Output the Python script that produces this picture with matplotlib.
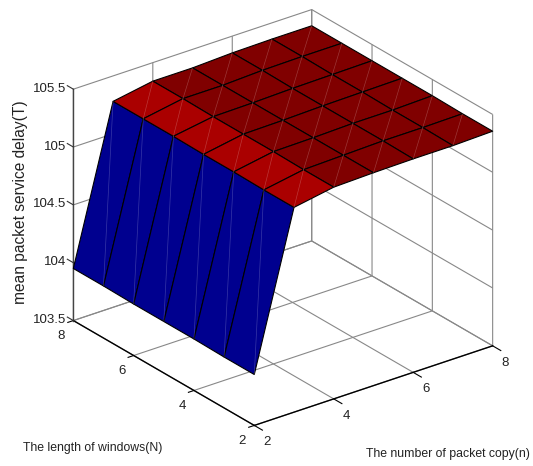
#!/usr/bin/env python3
import matplotlib
matplotlib.use("Agg")
import matplotlib.pyplot as plt
import numpy as np

plt.rcParams["font.family"] = ["Liberation Sans", "DejaVu Sans"]

copies = [2, 3, 4, 5, 6, 7, 8]
windows = [2, 3, 4, 5, 6, 7, 8]
# rows: windows N = 2..8, columns: packet copies n = 2..8
delay = [
    [103.94, 105.27, 105.33, 105.34, 105.345, 105.345, 105.355],
    [103.94, 105.27, 105.33, 105.34, 105.35, 105.35, 105.355],
    [103.945, 105.275, 105.335, 105.34, 105.35, 105.35, 105.36],
    [103.945, 105.275, 105.335, 105.34, 105.35, 105.355, 105.36],
    [103.945, 105.28, 105.335, 105.34, 105.35, 105.355, 105.36],
    [103.95, 105.28, 105.34, 105.34, 105.355, 105.36, 105.36],
    [103.95, 105.28, 105.34, 105.34, 105.355, 105.36, 105.36],
]
# face colour of each strip along n
strip_colors = ["#00008F", "#AA0000", "#800000", "#800000", "#800000", "#800000"]

xticks = [2, 4, 6, 8]
yticks = [2, 4, 6, 8]
zticks = [103.5, 104, 104.5, 105, 105.5]
zticklabels = ["103.5", "104", "104.5", "105", "105.5"]

W, H = 533, 466
fig = plt.figure(figsize=(W / 100, H / 100), dpi=100)
ax = fig.add_axes([36 / W, 1.5 / H, 481 / W, 481 / H], projection="3d", proj_type="ortho")
ax.computed_zorder = False
ax.view_init(elev=26.1, azim=-127.2)
ax.set_box_aspect((1, 1, 0.861))
ax.set_xlim(2, 8, view_margin=0)
ax.set_ylim(2, 8, view_margin=0)
ax.set_zlim(103.5, 105.5, view_margin=0)

X, Y = np.meshgrid(copies, windows)
Z = np.array(delay)
faces = np.array([strip_colors] * (len(windows) - 1))
rgba = np.array([[matplotlib.colors.to_rgba(c) for c in row] for row in faces])
ax.plot_surface(X, Y, Z, facecolors=rgba, rstride=1, cstride=1, shade=False,
                edgecolor="black", linewidth=0.8, antialiased=True, zorder=2)

# faint seams across each cell, as in the original export
for i in range(Z.shape[0] - 1):
    for j in range(Z.shape[1] - 1):
        ax.plot([X[i, j], X[i + 1, j + 1]], [Y[i, j], Y[i + 1, j + 1]], [Z[i, j], Z[i + 1, j + 1]],
                color="white", alpha=0.22, lw=0.5, zorder=3)

ax.set_xticks(xticks)
ax.set_yticks(yticks)
ax.set_zticks(zticks)
ax.set_zticklabels(zticklabels)
ax.tick_params(axis="x", labelsize=9.5, pad=1, colors="#222222")
ax.tick_params(axis="y", labelsize=9.5, pad=1, colors="#222222")
ax.tick_params(axis="z", labelsize=9.5, pad=-5, colors="#222222")

for label in ax.get_xticklabels():
    label.set_ha("left")
    label.set_va("center")
for label in ax.get_yticklabels():
    label.set_va("center")
for label in ax.get_zticklabels():
    label.set_ha("right")
    label.set_va("center")

for axis in (ax.xaxis, ax.yaxis, ax.zaxis):
    axis.set_pane_color((1, 1, 1, 1))
    axis.pane.set_edgecolor("none")
    axis._axinfo["grid"].update(color="#888888", linewidth=0.8, linestyle="-")
    axis._axinfo["tick"].update(inward_factor=0.0, outward_factor=0.0)
    axis.line.set_color("black")
    axis.line.set_linewidth(1.0)
ax.zaxis.line.set_color("#444444")

# tick marks drawn by hand so they point the same way as the original
for t in xticks:
    ax.plot([t, t], [2, 2 - 0.27], [103.5, 103.5], color="black", lw=0.8, zorder=1)
for t in yticks:
    ax.plot([2, 2 - 0.14], [t, t], [103.5, 103.5], color="black", lw=0.8, zorder=1)
for t in zticks:
    ax.plot([2, 2], [8, 8 + 0.2], [t, t], color="#333333", lw=0.8, zorder=1)

fig.text(21 / W, 1 - 202 / H, "mean packet service delay(T)", rotation=90,
         ha="center", va="center", fontsize=11.2, color="#222222")
fig.text(23 / W, 1 - 448 / H, "The length of windows(N)", ha="left", va="center",
         fontsize=8.8, color="#222222")
fig.text(366 / W, 1 - 454 / H, "The number of packet copy(n)", ha="left", va="center",
         fontsize=8.8, color="#222222")

fig.savefig("out.png", dpi=100)
